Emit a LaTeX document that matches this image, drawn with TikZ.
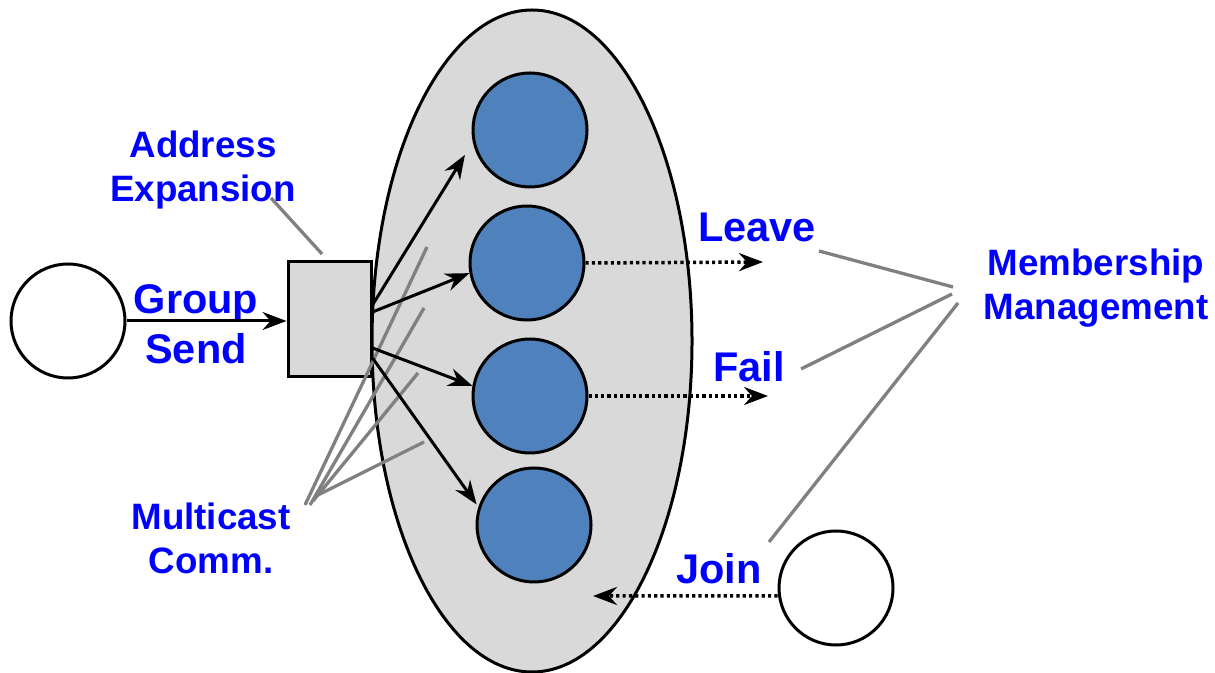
\documentclass[tikz,border=0pt]{standalone}
\usepackage{fontspec}
\setmainfont{Liberation Sans}
\usetikzlibrary{shapes.geometric,arrows.meta,calc}

\definecolor{memberblue}{HTML}{4F81BD}
\definecolor{groupgray}{HTML}{D9D9D9}

\tikzset{
  member/.style={draw=black,line width=0.3mm,circle,fill=memberblue,minimum size=11.4mm,inner sep=0pt},
  outsider/.style={draw=black,line width=0.3mm,circle,fill=white,minimum size=11.4mm,inner sep=0pt},
  lab/.style={text=blue,font=\fontsize{10.45}{12.6}\selectfont\bfseries,align=center,inner sep=0pt,anchor=north},
  biglab/.style={lab,font=\fontsize{11.8}{14.2}\selectfont\bfseries},
  flow/.style={line width=0.3mm,-{Stealth[length=2.4mm,width=1.8mm,inset=0.8mm]}},
  event/.style={flow,line width=0.35mm,dash pattern=on 0.9pt off 0.9pt},
  pointer/.style={draw=gray,line width=0.33mm}
}

\begin{document}
\begin{tikzpicture}[x=0.1mm,y=-0.1mm]
\useasboundingbox (0,0) rectangle (1215,673);

% the group
\node (group) [draw,line width=0.3mm,ellipse,fill=groupgray,minimum width=32mm,minimum height=66.2mm,inner sep=0pt] at (532,341) {};

\node (m1) [member] at (530,130) {};
\node (m2) [member] at (527,263) {};
\node (m3) [member] at (530,396) {};
\node (m4) [member] at (534,525) {};

\node (sender) [outsider] at (68,321) {};
\node (joiner) [outsider] at (836,588) {};

\node (expander) [draw,line width=0.3mm,fill=groupgray,minimum width=8.3mm,minimum height=11.5mm,inner sep=0pt] at (329.5,319.5) {};

% labels
\node (addr) [lab] at (203,130) {Address\\Expansion};
\node (send) [biglab] at (196,284) {Group\\Send};
\node (mcast) [lab] at (211,502) {Multicast\\Comm.};
\node (leave) [biglab] at (757,212) {Leave};
\node (fail) [biglab] at (749,351) {Fail};
\node (join) [biglab] at (719,553) {Join};
\node (mgmt) [lab] at (1096,248) {Membership\\Management};

% pointer lines
\coordinate (addrtail) at (271,198);
\coordinate (addrhead) at (322,254);
\draw [pointer] (addrtail) -- (addrhead);

\foreach \tail/\head in {{(305,505)}/{(427,247)},{(310,505)}/{(424,308)},{(313,501)}/{(418,373)},{(316,496)}/{(424,442)}}
  \draw [pointer] \tail -- \head;

\foreach \tail/\head in {{(953,287)}/{(819,251)},{(952,294)}/{(801,369)},{(958,303)}/{(769,542)}}
  \draw [pointer] \tail -- \head;

% multicast
\draw [flow] (sender.east) -- (sender.east -| expander.west);
\draw [flow,shorten >=1.5mm] ([yshift=1.45mm]expander.east) -- (m1.192);
\draw [flow] ([yshift=0.75mm]expander.east) -- (m2.190);
\draw [flow] ([yshift=-2.85mm]expander.east) -- (m3.170);
\draw [flow,shorten >=0.3mm] ([yshift=-3.85mm]expander.east) -- (m4.162);

% membership events
\coordinate (leaveend) at (763,262);
\coordinate (failend) at (768,396);
\coordinate (joinend) at (593,596);
\draw [event] (m2.east) -- (leaveend);
\draw [event] (m3.east) -- (failend);
\draw [event] ([yshift=-0.8mm]joiner.west) -- (joinend);

\end{tikzpicture}
\end{document}
